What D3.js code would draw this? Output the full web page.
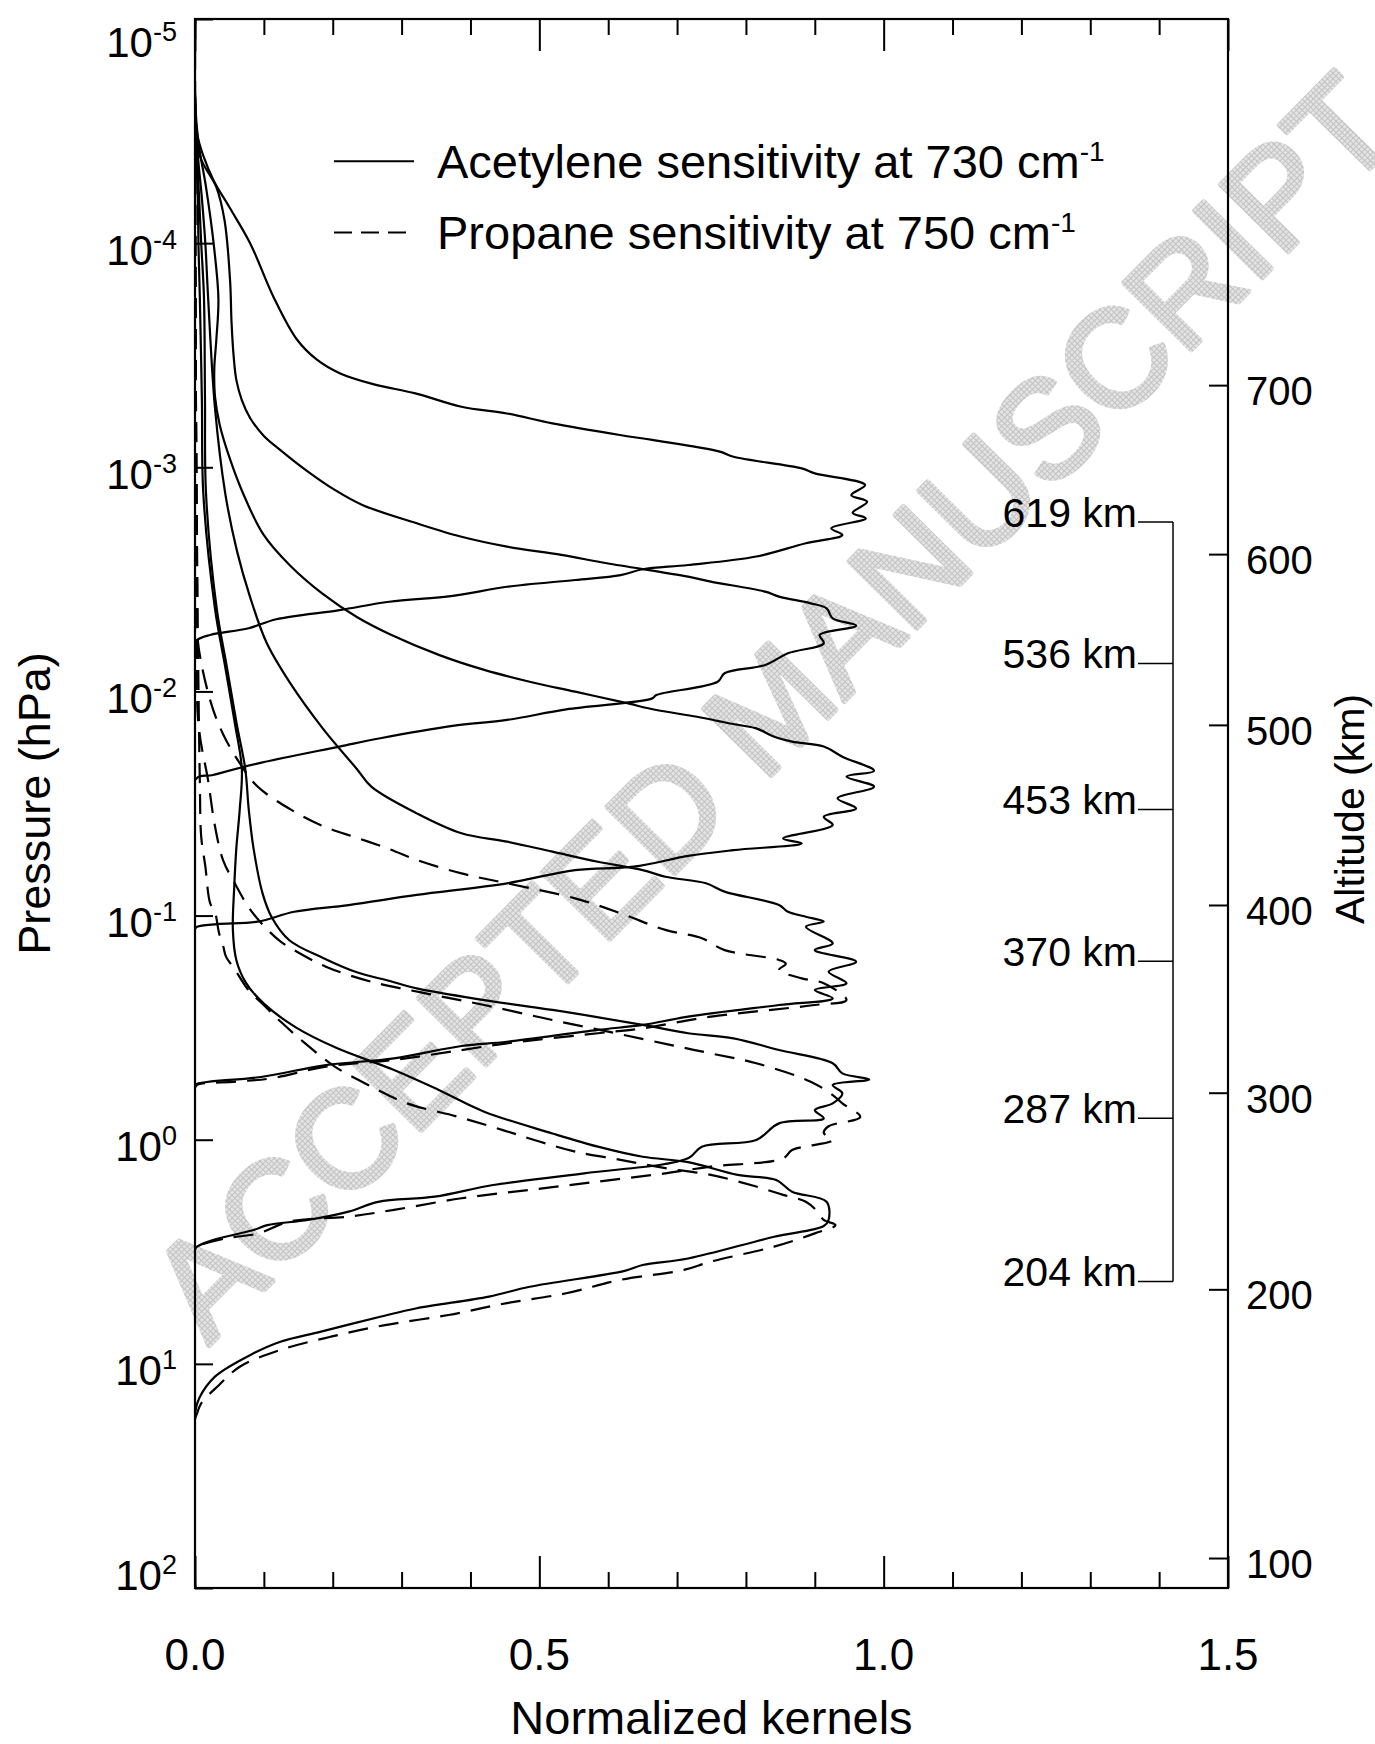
<!DOCTYPE html>
<html>
<head>
<meta charset="utf-8">
<script src="https://cdn.jsdelivr.net/npm/d3@7"></script>
<style>
  html, body { margin: 0; padding: 0; background: #fff; }
  svg { display: block; }
  text { font-family: "Liberation Sans", Arial, Helvetica, sans-serif; }
</style>
</head>
<body>
<svg id="chart" width="1375" height="1744"></svg>
<script>
// ---- axis data ----
const pressureTicks = [1e-5, 1e-4, 1e-3, 1e-2, 1e-1, 1e0, 1e1, 1e2];
const pressureExponents = ["-5", "-4", "-3", "-2", "-1", "0", "1", "2"];
const kernelTicks = [0.0, 0.5, 1.0, 1.5];
const kernelTickLabels = ["0.0", "0.5", "1.0", "1.5"];
// altitude (km) of the right-hand axis and the pressure (hPa) found at each of them
const altitudeTicks = [100, 200, 300, 400, 500, 600, 700];
const altitudeTickPressure = [73.5, 4.65, 0.617, 0.0897, 0.0141, 0.00244, 0.00043];
// tangent altitudes of the six kernels (km)
const kernelAltitudes = [619, 536, 453, 370, 287, 204];

// ---- kernels: each point is [normalized kernel, log10 pressure (hPa)] ----
const acetylene619 = [[0,-5],[0,-4.65],[0.003,-4.49],[0.012,-4.39],[0.027,-4.28],[0.05,-4.16],[0.08,-4.0],[0.114,-3.76],[0.148,-3.57],[0.177,-3.48],[0.21,-3.42],[0.26,-3.37],[0.32,-3.33],[0.387,-3.27],[0.453,-3.24],[0.519,-3.196],[0.617,-3.144],[0.664,-3.122],[0.762,-3.07],[0.782,-3.047],[0.881,-2.995],[0.90,-2.973],[0.973,-2.921],[0.953,-2.876],[0.976,-2.846],[0.955,-2.797],[0.974,-2.772],[0.924,-2.728],[0.94,-2.698],[0.887,-2.661],[0.815,-2.602],[0.716,-2.564],[0.65,-2.545],[0.618,-2.519],[0.552,-2.497],[0.453,-2.467],[0.374,-2.426],[0.282,-2.40],[0.21,-2.363],[0.118,-2.322],[0.078,-2.282],[0.022,-2.252],[0.003,-2.229],[0,-2.2],[0,2]];
const acetylene536 = [[0,-5],[0,-4.65],[0.007,-4.39],[0.031,-4.25],[0.043,-4.10],[0.051,-3.83],[0.053,-3.65],[0.056,-3.50],[0.06,-3.39],[0.068,-3.30],[0.08,-3.22],[0.1,-3.14],[0.124,-3.077],[0.16,-2.99],[0.203,-2.899],[0.243,-2.832],[0.322,-2.75],[0.387,-2.69],[0.453,-2.646],[0.532,-2.609],[0.598,-2.572],[0.716,-2.512],[0.749,-2.49],[0.828,-2.445],[0.848,-2.423],[0.894,-2.393],[0.917,-2.371],[0.926,-2.326],[0.96,-2.293],[0.907,-2.252],[0.913,-2.215],[0.861,-2.17],[0.828,-2.118],[0.769,-2.081],[0.759,-2.043],[0.67,-1.984],[0.664,-1.969],[0.539,-1.92],[0.453,-1.873],[0.374,-1.846],[0.269,-1.791],[0.21,-1.754],[0.092,-1.679],[0.026,-1.627],[0,-1.605],[0,2]];
const acetylene453 = [[0,-5],[0,-4.65],[0.005,-4.45],[0.016,-4.25],[0.027,-4.0],[0.034,-3.75],[0.031,-3.57],[0.028,-3.44],[0.029,-3.316],[0.036,-3.188],[0.051,-3.035],[0.07,-2.882],[0.099,-2.702],[0.138,-2.562],[0.186,-2.434],[0.235,-2.332],[0.283,-2.255],[0.355,-2.162],[0.42,-2.096],[0.486,-2.043],[0.552,-1.999],[0.624,-1.95],[0.67,-1.917],[0.729,-1.887],[0.775,-1.858],[0.815,-1.835],[0.841,-1.798],[0.867,-1.776],[0.913,-1.754],[0.94,-1.709],[0.986,-1.646],[0.946,-1.62],[0.986,-1.575],[0.933,-1.523],[0.96,-1.478],[0.913,-1.441],[0.926,-1.404],[0.854,-1.344],[0.881,-1.322],[0.782,-1.292],[0.716,-1.266],[0.637,-1.218],[0.552,-1.203],[0.453,-1.144],[0.322,-1.092],[0.223,-1.047],[0.144,-1.017],[0.091,-0.973],[0.032,-0.962],[0.003,-0.95],[0,-0.94],[0,2]];
const acetylene370 = [[0,-5],[0,-4.65],[0.004,-4.4],[0.01,-4.2],[0.015,-4.0],[0.019,-3.76],[0.029,-3.265],[0.044,-2.882],[0.061,-2.626],[0.08,-2.421],[0.104,-2.217],[0.138,-2.038],[0.186,-1.833],[0.235,-1.654],[0.256,-1.575],[0.322,-1.456],[0.387,-1.367],[0.453,-1.33],[0.519,-1.285],[0.585,-1.24],[0.65,-1.203],[0.683,-1.173],[0.742,-1.144],[0.769,-1.107],[0.848,-1.047],[0.861,-1.017],[0.887,-0.995],[0.913,-0.973],[0.887,-0.95],[0.926,-0.876],[0.9,-0.846],[0.96,-0.794],[0.92,-0.75],[0.946,-0.698],[0.9,-0.668],[0.926,-0.631],[0.848,-0.601],[0.716,-0.549],[0.65,-0.512],[0.585,-0.49],[0.453,-0.437],[0.387,-0.418],[0.289,-0.363],[0.19,-0.333],[0.098,-0.281],[0.003,-0.249],[0,-0.24],[0,2]];
const acetylene287 = [[0,-5],[0,-4.65],[0.003,-4.4],[0.006,-4.2],[0.009,-4.0],[0.013,-3.76],[0.0145,-3.3],[0.016,-2.882],[0.0315,-2.37],[0.046,-2.114],[0.0605,-1.856],[0.073,-1.654],[0.078,-1.475],[0.085,-1.3],[0.098,-1.1],[0.111,-0.995],[0.137,-0.89],[0.186,-0.811],[0.235,-0.747],[0.283,-0.708],[0.322,-0.675],[0.42,-0.623],[0.519,-0.579],[0.65,-0.512],[0.716,-0.475],[0.782,-0.452],[0.848,-0.4],[0.926,-0.341],[0.94,-0.296],[0.979,-0.269],[0.926,-0.244],[0.94,-0.207],[0.926,-0.162],[0.9,-0.132],[0.913,-0.095],[0.848,-0.073],[0.815,0.001],[0.736,0.031],[0.716,0.083],[0.565,0.15],[0.433,0.202],[0.348,0.254],[0.266,0.277],[0.223,0.321],[0.164,0.358],[0.105,0.381],[0.085,0.403],[0.026,0.448],[0.003,0.477],[0,0.49],[0,2]];
const acetylene204 = [[0,-5],[0,-4.65],[0.002,-4.4],[0.004,-4.2],[0.005,-4.0],[0.007,-3.76],[0.01,-3.3],[0.0121,-2.882],[0.029,-2.37],[0.0436,-2.114],[0.058,-1.856],[0.068,-1.654],[0.065,-1.475],[0.06,-1.3],[0.057,-1.129],[0.055,-0.936],[0.06,-0.802],[0.074,-0.7],[0.1,-0.607],[0.147,-0.5],[0.205,-0.41],[0.289,-0.311],[0.354,-0.222],[0.42,-0.125],[0.519,-0.028],[0.585,0.031],[0.65,0.076],[0.716,0.1],[0.788,0.157],[0.844,0.18],[0.867,0.232],[0.917,0.277],[0.92,0.358],[0.913,0.385],[0.841,0.433],[0.716,0.53],[0.65,0.559],[0.624,0.585],[0.486,0.656],[0.427,0.7],[0.322,0.752],[0.269,0.79],[0.183,0.856],[0.124,0.901],[0.085,0.953],[0.029,1.057],[0.006,1.154],[0,1.221],[0,2]];

const propane370 = [[0,-5],[0,-4.6],[0.001,-3.5],[0.002,-2.8],[0.0024,-2.268],[0.022,-1.961],[0.041,-1.808],[0.065,-1.68],[0.09,-1.578],[0.138,-1.475],[0.186,-1.399],[0.235,-1.347],[0.283,-1.296],[0.322,-1.248],[0.387,-1.188],[0.453,-1.144],[0.552,-1.077],[0.618,-1.01],[0.683,-0.936],[0.736,-0.899],[0.769,-0.846],[0.848,-0.802],[0.858,-0.785],[0.848,-0.757],[0.881,-0.72],[0.913,-0.698],[0.946,-0.623],[0.9,-0.601],[0.749,-0.549],[0.65,-0.497],[0.585,-0.475],[0.453,-0.43],[0.387,-0.4],[0.289,-0.356],[0.19,-0.326],[0.111,-0.274],[0.059,-0.259],[0.003,-0.244],[0,-0.23],[0,2]];
const propane287 = [[0,-5],[0,-4.6],[0.001,-3.5],[0.003,-2.5],[0.005,-1.856],[0.019,-1.603],[0.029,-1.399],[0.041,-1.245],[0.058,-1.143],[0.077,-1.041],[0.097,-0.964],[0.123,-0.887],[0.144,-0.846],[0.19,-0.772],[0.256,-0.705],[0.335,-0.653],[0.42,-0.601],[0.519,-0.534],[0.611,-0.475],[0.69,-0.423],[0.749,-0.385],[0.815,-0.341],[0.894,-0.259],[0.926,-0.199],[0.94,-0.162],[0.966,-0.101],[0.92,-0.06],[0.913,-0.03],[0.926,0.001],[0.867,0.046],[0.854,0.083],[0.749,0.12],[0.683,0.15],[0.585,0.187],[0.486,0.224],[0.387,0.261],[0.289,0.313],[0.223,0.343],[0.137,0.365],[0.092,0.418],[0.045,0.44],[0.003,0.477],[0,0.49],[0,2]];
const propane204 = [[0,-5],[0,-4.6],[0.001,-3.5],[0.004,-2.3],[0.007,-1.603],[0.009,-1.352],[0.015,-1.22],[0.022,-1.055],[0.029,-1.015],[0.035,-0.921],[0.041,-0.863],[0.045,-0.817],[0.058,-0.759],[0.077,-0.67],[0.102,-0.594],[0.125,-0.525],[0.16,-0.43],[0.203,-0.326],[0.256,-0.237],[0.308,-0.162],[0.381,-0.103],[0.447,-0.043],[0.5,0.008],[0.552,0.053],[0.618,0.09],[0.683,0.127],[0.749,0.157],[0.815,0.209],[0.854,0.246],[0.887,0.277],[0.904,0.321],[0.913,0.358],[0.93,0.381],[0.9,0.418],[0.841,0.477],[0.749,0.544],[0.71,0.581],[0.618,0.625],[0.539,0.685],[0.453,0.729],[0.368,0.782],[0.276,0.827],[0.197,0.879],[0.124,0.938],[0.065,1.013],[0.035,1.094],[0.009,1.176],[0.003,1.221],[0,1.25],[0,2]];

const legendLabels = ["Acetylene sensitivity at 730 cm", "Propane sensitivity at 750 cm"];

const kernels = [
  { pts: acetylene619, dashed: false },
  { pts: acetylene536, dashed: false },
  { pts: acetylene453, dashed: false },
  { pts: acetylene370, dashed: false },
  { pts: acetylene287, dashed: false },
  { pts: acetylene204, dashed: false },
  { pts: propane370, dashed: true },
  { pts: propane287, dashed: true },
  { pts: propane204, dashed: true }
];

// ---- layout ----
const plotL = 195, plotR = 1228, plotT = 19, plotB = 1588;
const ink = "#000";
const DASH = "20,11";

const svg = d3.select("#chart");
const x = d3.scaleLinear().domain([0, 1.5]).range([plotL, plotR]);
const y = d3.scaleLog().domain([1e-5, 1e2]).range([plotT, plotB]);
const alt = d3.scaleLinear().domain(altitudeTicks).range(altitudeTickPressure.map(p => y(p)));

svg.append("rect").attr("width", 1375).attr("height", 1744).attr("fill", "#fff");

// watermark, lightly hatched, behind the plot
const defs = svg.append("defs");
const pat = defs.append("pattern").attr("id", "hatch")
  .attr("width", 4).attr("height", 4).attr("patternUnits", "userSpaceOnUse");
pat.append("rect").attr("width", 4).attr("height", 4).attr("fill", "#e4e4e4");
pat.append("path").attr("d", "M0 0.5H4M0.5 0V4").attr("stroke", "#c2c2c2").attr("stroke-width", 1);
svg.append("text")
  .attr("transform", "translate(771,705) rotate(-45.4)")
  .attr("text-anchor", "middle")
  .attr("dy", "0.36em")
  .style("font-size", "138px")
  .style("fill", "url(#hatch)")
  .style("stroke", "url(#hatch)")
  .style("stroke-width", "5px")
  .style("stroke-linejoin", "round")
  .text("ACCEPTED MANUSCRIPT");

defs.append("clipPath").attr("id", "plotClip")
  .append("rect").attr("x", plotL).attr("y", plotT)
  .attr("width", plotR - plotL).attr("height", plotB - plotT);

// ---- kernels ----
const line = d3.line()
  .x(d => x(d[0]))
  .y(d => y(Math.pow(10, d[1])))
  .curve(d3.curveCatmullRom.alpha(0.5));

svg.append("g").attr("clip-path", "url(#plotClip)")
  .selectAll("path").data(kernels).join("path")
  .attr("d", d => line(d.pts))
  .attr("fill", "none")
  .attr("stroke", ink)
  .attr("stroke-width", 2.2)
  .attr("stroke-linejoin", "round")
  .attr("stroke-dasharray", d => d.dashed ? DASH : null);

// ---- axes (ticks point inward) ----
const minorKernel = d3.range(1, 15).filter(i => i % 5 !== 0).map(i => i / 10);
function styleAxis(g) {
  g.select(".domain").remove();
  g.selectAll("text").remove();
  g.selectAll("line").attr("stroke", ink).attr("stroke-width", 2);
}
svg.append("g").attr("transform", `translate(0,${plotB})`)
  .call(d3.axisBottom(x).tickValues(minorKernel).tickSize(-16).tickFormat("")).call(styleAxis);
svg.append("g").attr("transform", `translate(0,${plotB})`)
  .call(d3.axisBottom(x).tickValues(kernelTicks).tickSize(-32).tickFormat("")).call(styleAxis);
svg.append("g").attr("transform", `translate(0,${plotT})`)
  .call(d3.axisTop(x).tickValues(minorKernel).tickSize(-16).tickFormat("")).call(styleAxis);
svg.append("g").attr("transform", `translate(0,${plotT})`)
  .call(d3.axisTop(x).tickValues(kernelTicks).tickSize(-32).tickFormat("")).call(styleAxis);
svg.append("g").attr("transform", `translate(${plotL},0)`)
  .call(d3.axisLeft(y).tickValues(pressureTicks).tickSize(-18).tickFormat("")).call(styleAxis);
svg.append("g").attr("transform", `translate(${plotR},0)`)
  .call(d3.axisRight(alt).tickValues(altitudeTicks).tickSize(-19).tickFormat("")).call(styleAxis);

// frame
svg.append("rect").attr("x", plotL).attr("y", plotT)
  .attr("width", plotR - plotL).attr("height", plotB - plotT)
  .attr("fill", "none").attr("stroke", ink).attr("stroke-width", 2.2);

// pressure labels 10^n (end labels kept inside the axis span)
const pLab = svg.append("g").style("fill", ink);
pressureTicks.forEach((p, i) => {
  const base = Math.min(Math.max(y(p) + 21.5, plotT + 38), plotB + 2);
  const t = pLab.append("text").attr("x", 177).attr("y", base)
    .attr("text-anchor", "end").style("font-size", "42px");
  t.append("tspan").text("10");
  t.append("tspan").attr("dy", -16).style("font-size", "27px").text(pressureExponents[i]);
});

// kernel labels
svg.append("g").selectAll("text").data(kernelTicks).join("text")
  .attr("x", d => x(d)).attr("y", 1670)
  .attr("text-anchor", "middle")
  .style("font-size", "44px").style("fill", ink)
  .text((d, i) => kernelTickLabels[i]);

// altitude labels
svg.append("g").selectAll("text").data(altitudeTicks).join("text")
  .attr("x", plotR + 18).attr("y", d => alt(d) + 20)
  .style("font-size", "40px").style("fill", ink)
  .text(d => d);

// axis titles
svg.append("text").attr("x", (plotL + plotR) / 2).attr("y", 1734)
  .attr("text-anchor", "middle").style("font-size", "47px").style("fill", ink)
  .text("Normalized kernels");
svg.append("text").attr("transform", `translate(50,${(plotT + plotB) / 2}) rotate(-90)`)
  .attr("text-anchor", "middle").style("font-size", "45px").style("fill", ink)
  .text("Pressure (hPa)");
svg.append("text").attr("transform", `translate(1364,809) rotate(-90)`)
  .attr("text-anchor", "middle").style("font-size", "41px").style("fill", ink)
  .text("Altitude (km)");

// tangent altitude markers with bracket
const bx = 1173;
const brk = svg.append("g");
brk.append("line")
  .attr("x1", bx).attr("x2", bx)
  .attr("y1", alt(d3.max(kernelAltitudes))).attr("y2", alt(d3.min(kernelAltitudes)))
  .attr("stroke", ink).attr("stroke-width", 1.5);
kernelAltitudes.forEach(a => {
  const yy = alt(a);
  brk.append("line").attr("x1", 1138).attr("x2", bx).attr("y1", yy).attr("y2", yy)
    .attr("stroke", ink).attr("stroke-width", 1.5);
  brk.append("text").attr("x", 1137).attr("y", yy + 4.5)
    .attr("text-anchor", "end").style("font-size", "41px").style("fill", ink)
    .text(a + " km");
});

// legend
const legendY = [161.3, 232.5];
const leg = svg.append("g");
legendLabels.forEach((lab, i) => {
  leg.append("line")
    .attr("x1", 334).attr("x2", i === 0 ? 414 : 406)
    .attr("y1", legendY[i]).attr("y2", legendY[i])
    .attr("stroke", ink).attr("stroke-width", 2)
    .attr("stroke-dasharray", i === 0 ? null : "18,9");
  const t = leg.append("text").attr("x", 437).attr("y", legendY[i] + 16.7)
    .style("font-size", "47px").style("fill", ink);
  t.append("tspan").text(lab);
  t.append("tspan").attr("dy", -17).style("font-size", "28px").text("-1");
});
</script>
</body>
</html>
